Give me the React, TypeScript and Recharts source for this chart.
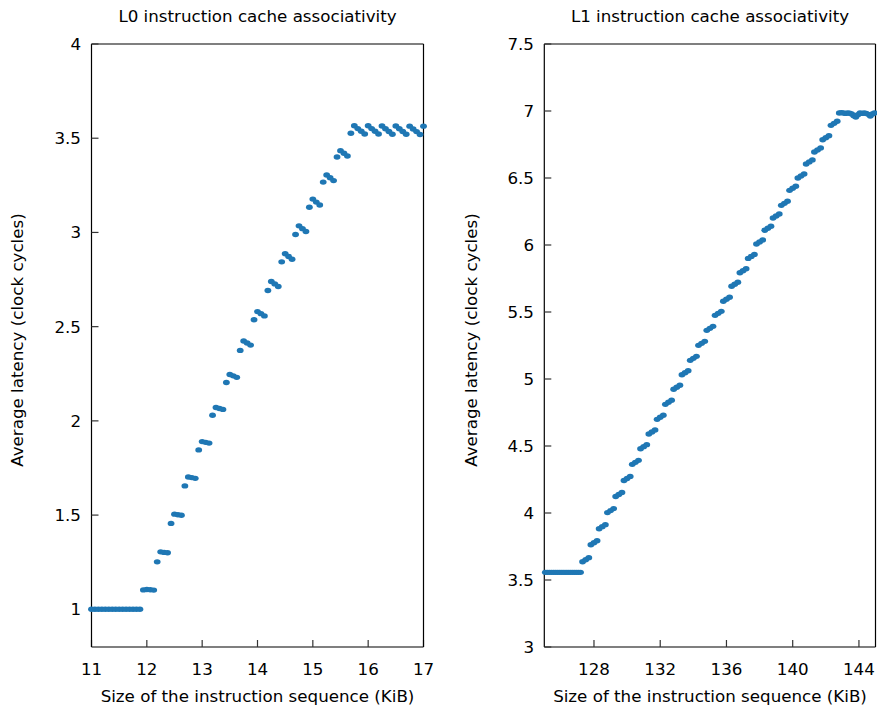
import React from 'react';
import { ScatterChart, Scatter, XAxis, YAxis } from 'recharts';

type Pt = [number, number];

// axis ticks
const l0XTicks = [11, 12, 13, 14, 15, 16, 17];
const l0YTicks = [1, 1.5, 2, 2.5, 3, 3.5, 4];
const l1XTicks = [128, 132, 136, 140, 144];
const l1YTicks = [3, 3.5, 4, 4.5, 5, 5.5, 6, 6.5, 7, 7.5];

// L0: size (KiB), latency (cycles)
const l0Flat: Pt[] = [
  [11, 1], [11.0625, 1], [11.125, 1], [11.1875, 1], [11.25, 1], [11.3125, 1], [11.375, 1], [11.4375, 1],
  [11.5, 1], [11.5625, 1], [11.625, 1], [11.6875, 1], [11.75, 1], [11.8125, 1], [11.875, 1],
];

const l0Ramp: Pt[] = [
  [11.9375, 1.103], [12, 1.105], [12.0625, 1.104], [12.125, 1.102],
  [12.1875, 1.252], [12.25, 1.305], [12.3125, 1.302], [12.375, 1.3],
  [12.4375, 1.456], [12.5, 1.505], [12.5625, 1.502], [12.625, 1.499],
  [12.6875, 1.655], [12.75, 1.702], [12.8125, 1.699], [12.875, 1.695],
  [12.9375, 1.846], [13, 1.89], [13.0625, 1.886], [13.125, 1.882],
  [13.1875, 2.03], [13.25, 2.071], [13.3125, 2.066], [13.375, 2.061],
  [13.4375, 2.204], [13.5, 2.246], [13.5625, 2.239], [13.625, 2.231],
  [13.6875, 2.374], [13.75, 2.424], [13.8125, 2.413], [13.875, 2.402],
  [13.9375, 2.537], [14, 2.58], [14.0625, 2.569], [14.125, 2.557],
  [14.1875, 2.692], [14.25, 2.74], [14.3125, 2.727], [14.375, 2.713],
  [14.4375, 2.844], [14.5, 2.887], [14.5625, 2.872], [14.625, 2.858],
  [14.6875, 2.989], [14.75, 3.035], [14.8125, 3.02], [14.875, 3.005],
  [14.9375, 3.134], [15, 3.177], [15.0625, 3.161], [15.125, 3.146],
  [15.1875, 3.267], [15.25, 3.305], [15.3125, 3.29], [15.375, 3.275],
  [15.4375, 3.4], [15.5, 3.434], [15.5625, 3.42], [15.625, 3.406],
  [15.6875, 3.526],
];

const l0Plateau: Pt[] = [
  [15.75, 3.566], [15.8125, 3.551], [15.875, 3.537], [15.9375, 3.522],
  [16, 3.566], [16.0625, 3.551], [16.125, 3.537], [16.1875, 3.522],
  [16.25, 3.565], [16.3125, 3.55], [16.375, 3.536], [16.4375, 3.521],
  [16.5, 3.565], [16.5625, 3.55], [16.625, 3.536], [16.6875, 3.521],
  [16.75, 3.564], [16.8125, 3.549], [16.875, 3.535], [16.9375, 3.52],
  [17, 3.564],
];

// L1: size (KiB), latency (cycles)
const l1Flat: Pt[] = [
  [125.0625, 3.557], [125.1875, 3.557], [125.3125, 3.557], [125.4375, 3.557], [125.5625, 3.557], [125.6875, 3.557],
  [125.8125, 3.557], [125.9375, 3.557], [126.0625, 3.557], [126.1875, 3.557], [126.3125, 3.557], [126.4375, 3.557],
  [126.5625, 3.557], [126.6875, 3.557], [126.8125, 3.557], [126.9375, 3.557], [127.0625, 3.557], [127.1875, 3.557],
];

const l1Ramp: Pt[] = [
  [127.3125, 3.636], [127.5, 3.651], [127.6875, 3.666],
  [127.8125, 3.763], [128, 3.778], [128.1875, 3.793],
  [128.3125, 3.883], [128.5, 3.898], [128.6875, 3.913],
  [128.8125, 4.003], [129, 4.018], [129.1875, 4.033],
  [129.3125, 4.123], [129.5, 4.138], [129.6875, 4.153],
  [129.8125, 4.243], [130, 4.258], [130.1875, 4.273],
  [130.3125, 4.363], [130.5, 4.378], [130.6875, 4.393],
  [130.8125, 4.48], [131, 4.495], [131.1875, 4.51],
  [131.3125, 4.589], [131.5, 4.604], [131.6875, 4.619],
  [131.8125, 4.699], [132, 4.714], [132.1875, 4.729],
  [132.3125, 4.811], [132.5, 4.826], [132.6875, 4.841],
  [132.8125, 4.923], [133, 4.938], [133.1875, 4.953],
  [133.3125, 5.032], [133.5, 5.047], [133.6875, 5.062],
  [133.8125, 5.139], [134, 5.154], [134.1875, 5.169],
  [134.3125, 5.251], [134.5, 5.266], [134.6875, 5.281],
  [134.8125, 5.363], [135, 5.378], [135.1875, 5.393],
  [135.3125, 5.475], [135.5, 5.49], [135.6875, 5.505],
  [135.8125, 5.58], [136, 5.595], [136.1875, 5.61],
  [136.3125, 5.692], [136.5, 5.707], [136.6875, 5.722],
  [136.8125, 5.793], [137, 5.808], [137.1875, 5.823],
  [137.3125, 5.9], [137.5, 5.915], [137.6875, 5.93],
  [137.8125, 6.007], [138, 6.022], [138.1875, 6.037],
  [138.3125, 6.11], [138.5, 6.125], [138.6875, 6.14],
  [138.8125, 6.201], [139, 6.216], [139.1875, 6.231],
  [139.3125, 6.296], [139.5, 6.311], [139.6875, 6.326],
  [139.8125, 6.408], [140, 6.423], [140.1875, 6.438],
  [140.3125, 6.5], [140.5, 6.515], [140.6875, 6.53],
  [140.8125, 6.605], [141, 6.62], [141.1875, 6.635],
  [141.3125, 6.694], [141.5, 6.709], [141.6875, 6.724],
  [141.8125, 6.785], [142, 6.8], [142.1875, 6.815],
  [142.3125, 6.893], [142.5, 6.908], [142.6875, 6.923],
];

const l1Plateau: Pt[] = [
  [142.8125, 6.985], [142.9375, 6.988], [143.0625, 6.985], [143.1875, 6.982], [143.3125, 6.986], [143.4375, 6.983],
  [143.5625, 6.978], [143.6875, 6.965], [143.8125, 6.955], [143.9375, 6.972], [144.0625, 6.985], [144.1875, 6.982],
  [144.3125, 6.986], [144.4375, 6.982], [144.5625, 6.975], [144.6875, 6.962], [144.8125, 6.978], [144.9375, 6.986],
];

const FONT = "'DejaVu Sans', sans-serif";
const BLUE = '#1f77b4';
const tickStyle = { fontSize: 16.7, fill: '#000', fontFamily: FONT };
const axisLine = { stroke: '#000', strokeWidth: 1.2 };
const tickLine = { stroke: '#333', strokeWidth: 1.2 };

const NoLabel = () => <g />;
// gnuplot-ish filled point, a touch wider than tall
const dot = (p: any) => <ellipse cx={p.cx} cy={p.cy} rx={3.4} ry={2.7} fill={BLUE} />;

interface PanelProps {
  data: Pt[];
  left: number;
  width: number;
  yAxisWidth: number;
  rightMargin: number;
  xDomain: [number, number];
  yDomain: [number, number];
  xTicks: number[];
  yTicks: number[];
  yTickMargin: number;
}

function Panel({ data, left, width, yAxisWidth, rightMargin, xDomain, yDomain, xTicks, yTicks, yTickMargin }: PanelProps) {
  const rows = data.map(([x, y]) => ({ x, y }));
  return (
    <div style={{ position: 'absolute', left, top: 0 }}>
      <ScatterChart width={width} height={711} margin={{ top: 43, right: rightMargin, bottom: 0, left: 0 }}>
        <XAxis
          type="number"
          dataKey="x"
          domain={xDomain}
          ticks={xTicks}
          interval={0}
          height={64}
          tickSize={-7}
          tickMargin={23}
          tick={tickStyle}
          axisLine={axisLine}
          tickLine={tickLine}
        />
        <XAxis
          xAxisId="top"
          orientation="top"
          type="number"
          domain={xDomain}
          ticks={xTicks}
          interval={0}
          height={1}
          tickSize={-7}
          tick={NoLabel}
          axisLine={axisLine}
          tickLine={tickLine}
        />
        <YAxis
          type="number"
          dataKey="y"
          domain={yDomain}
          ticks={yTicks}
          interval={0}
          width={yAxisWidth}
          tickSize={-7}
          tickMargin={yTickMargin}
          tick={tickStyle}
          axisLine={axisLine}
          tickLine={tickLine}
        />
        <YAxis
          yAxisId="right"
          orientation="right"
          type="number"
          domain={yDomain}
          ticks={yTicks}
          interval={0}
          width={1}
          tickSize={-7}
          tick={NoLabel}
          axisLine={axisLine}
          tickLine={tickLine}
        />
        <Scatter data={rows} shape={dot} isAnimationActive={false} />
      </ScatterChart>
    </div>
  );
}

export default function App() {
  const textProps = { fontFamily: FONT, fontSize: 16.7, fill: '#000', textAnchor: 'middle' as const };
  return (
    <div style={{ position: 'absolute', left: 0, top: 0, width: 877, height: 711, background: '#fff' }}>
      <Panel
        data={[...l0Flat, ...l0Ramp, ...l0Plateau]}
        left={0}
        width={440}
        yAxisWidth={91.5}
        rightMargin={15.5}
        xDomain={[11, 17]}
        yDomain={[0.8, 4]}
        xTicks={l0XTicks}
        yTicks={l0YTicks}
        yTickMargin={17.5}
      />
      <Panel
        data={[...l1Flat, ...l1Ramp, ...l1Plateau]}
        left={440}
        width={437}
        yAxisWidth={104.3}
        rightMargin={0.5}
        xDomain={[125, 145]}
        yDomain={[3, 7.5]}
        xTicks={l1XTicks}
        yTicks={l1YTicks}
        yTickMargin={17.3}
      />
      <svg width={877} height={711} style={{ position: 'absolute', left: 0, top: 0, pointerEvents: 'none' }}>
        <text x={257.5} y={22} {...textProps}>L0 instruction cache associativity</text>
        <text x={710} y={22} {...textProps}>L1 instruction cache associativity</text>
        <text x={257.5} y={702} {...textProps}>Size of the instruction sequence (KiB)</text>
        <text x={710} y={702} {...textProps}>Size of the instruction sequence (KiB)</text>
        <text transform="translate(23,340) rotate(-90)" {...textProps}>Average latency (clock cycles)</text>
        <text transform="translate(477,340) rotate(-90)" {...textProps}>Average latency (clock cycles)</text>
      </svg>
    </div>
  );
}
